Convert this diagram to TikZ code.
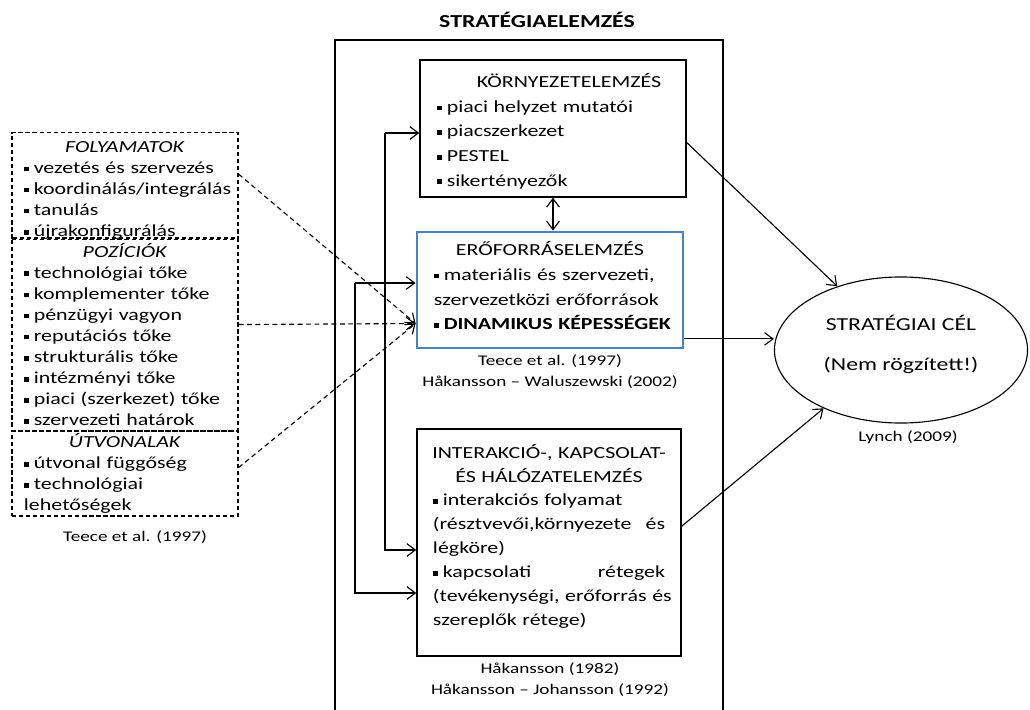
\documentclass[tikz,border=0pt]{standalone}
\usepackage{fontspec}
\setmainfont{Carlito}[FakeStretch=1.3]
\usetikzlibrary{arrows.meta,shapes.geometric}

\definecolor{boxblue}{RGB}{79,129,189}

\newcommand{\blt}{\rule[0.12em]{0.28em}{0.28em}\nobreak\hspace{0.3em}}
\newcommand{\fullline}[1]{\makebox[\hsize][s]{#1}}
\newcommand{\midline}[1]{\makebox[\hsize][c]{#1}}

\hyphenpenalty=10000
\exhyphenpenalty=10000

\tikzset{
	arr/.style={-{Straight Barb[length=6pt,width=9pt]}, line width=0.8pt},
	arrtwo/.style={{Straight Barb[length=6pt,width=9pt]}-{Straight Barb[length=6pt,width=9pt]}, line width=0.8pt},
	darr/.style={arr, dash pattern=on 3.5pt off 2.5pt},
	dashbox/.style={draw, dash pattern=on 3pt off 2pt, line width=0.8pt, minimum width=5.65cm, text width=5.05cm, inner xsep=0.3cm, inner ysep=0pt, align=left, font=\fontsize{12}{15}\selectfont},
	midbox/.style={draw, line width=1pt, minimum width=6.65cm, text width=5.8cm, inner xsep=0.425cm, inner ysep=0pt, align=left, font=\fontsize{12}{17.5}\selectfont},
	refnote/.style={align=center, inner sep=0pt, font=\fontsize{10.5}{15}\selectfont}
}

\begin{document}
\begin{tikzpicture}[x=0.025cm, y=-0.025cm]

	\useasboundingbox (0,0) rectangle (1030,709);

	\clip (0,0) rectangle (1030,709);

	% frame

	\draw[line width=2pt] (335,40) rectangle (723,760);

	\node[font=\bfseries\fontsize{13}{15}\selectfont] (titel) at (537,20) {STRATÉGIAELEMZÉS};

	% left boxes

	\node[dashbox, minimum height=2.6cm] (folyamat) at (125,186)
		{\midline{\rule{0pt}{14pt}\textit{FOLYAMATOK}}\\ \blt vezetés és szervezés\\ \mbox{\blt koordinálás/integrálás}\\ \blt tanulás\\ \blt újrakonfigurálás};

	\node[dashbox, minimum height=4.825cm] (pozicio) at (125,334.5)
		{\midline{\textit{POZÍCIÓK}}\\ \blt technológiai tőke\\ \blt komplementer tőke\\ \blt pénzügyi vagyon\\ \blt reputációs tőke\\ \blt strukturális tőke\\ \blt intézményi tőke\\ \blt piaci (szerkezet) tőke\\ \blt szervezeti határok};

	\node[dashbox, minimum height=2.125cm] (utvonal) at (125,473.5)
		{\midline{\textit{ÚTVONALAK}}\\ \blt útvonal függőség\\ \blt technológiai\\ lehetőségek};

	\node[refnote] (capT) at (135,537) {Teece et al. (1997)};

	% middle boxes

	\node[midbox, minimum height=3.425cm] (korny) at (553,128.5)
		{\rule{0pt}{14pt}\hspace*{1cm}KÖRNYEZETELEMZÉS\\ \blt piaci helyzet mutatói\\ \blt piacszerkezet\\ \blt PESTEL\\ \blt sikertényezők};

	\node[midbox, draw=boxblue, line width=2pt, minimum height=2.9cm] (eroforras) at (550,290)
		{\midline{ERŐFORRÁSELEMZÉS}\\ \fullline{\blt materiális és szervezeti,}\\ szervezetközi erőforrások\\ \mbox{\blt\textbf{DINAMIKUS KÉPESSÉGEK}}\rule[-6pt]{0pt}{6pt}};

	\node[refnote] (capE) at (550,372) {Teece et al. (1997)\\Håkansson -- Waluszewski (2002)};

	\node[midbox, minimum width=6.6cm, inner xsep=0.4cm, minimum height=5.675cm, font=\fontsize{12}{17}\selectfont] (interakcio) at (549,542.5)
		{\midline{INTERAKCIÓ-, KAPCSOLAT-}\\ \midline{ÉS HÁLÓZATELEMZÉS}\\ \blt interakciós folyamat\\ \fullline{(résztvevői,környezete\hfill és}\\ légköre)\\ \fullline{\blt kapcsolati\hfill rétegek}\\ \fullline{(tevékenységi, erőforrás és}\\ szereplők rétege)\rule[-11pt]{0pt}{11pt}};

	\node[refnote] (capI) at (550,680) {Håkansson (1982)\\Håkansson -- Johansson (1992)};

	% goal

	\node[ellipse, draw, line width=0.8pt, minimum width=6.325cm, minimum height=3.65cm, inner sep=0pt, align=center, font=\fontsize{13}{16}\selectfont] (cel) at (901,350)
		{STRATÉGIAI CÉL\\[12pt](Nem rögzített!)\\[-6pt]\mbox{}};

	\node[refnote] (capL) at (908,437) {Lynch (2009)};

	% define point

	\coordinate (fa) at (385,133);

	\coordinate (fb) at (385,550);

	\coordinate (ga) at (355,283);

	\coordinate (gb) at (355,593);

	% arrows

	\draw[arr] (fa) -- (fa -| korny.west);

	\draw[arr] (fa) -- (fb) -- (fb -| interakcio.west);

	\draw[arr] (ga) -- (ga -| eroforras.west);

	\draw[arr] (ga) -- (gb) -- (gb -| interakcio.west);

	\draw[arrtwo] (korny.south) -- (korny.south |- eroforras.north);

	\draw[arr] (korny.-6) -- (cel.135);

	\draw[arr] (eroforras.-20) -- (eroforras.-20 -| cel.west);

	\draw[arr] (interakcio.7.5) -- (cel.217);

	\draw[darr] (folyamat.6.6) -- (eroforras.194);

	\draw[darr] (pozicio.5) -- (eroforras.194);

	\draw[darr] (utvonal.3) -- (eroforras.194);

\end{tikzpicture}
\end{document}
